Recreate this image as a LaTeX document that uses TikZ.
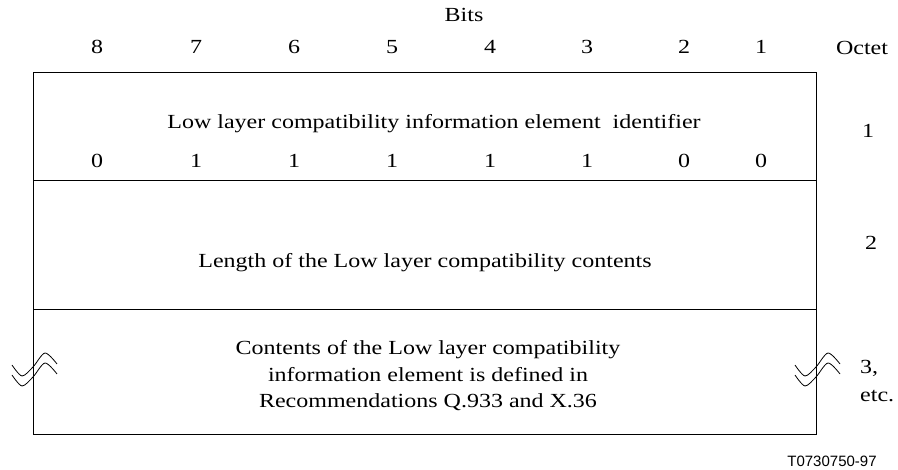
\documentclass[tikz,border=0pt]{standalone}
\usepackage{fontspec}
\setmainfont{Liberation Serif}[FakeStretch=1.2]
\setsansfont{Liberation Sans}
\usetikzlibrary{positioning}

\tikzset{
  brkmark/.pic={
    \draw[line width=0.8pt] plot[smooth] coordinates {(-21,-3) (-11,8) (0,-1) (12,-15) (24,-4)};
    \draw[line width=0.8pt] plot[smooth] coordinates {(-21,7) (-11,18) (0,9) (12,-5) (24,6)};
  }
}

\begin{document}
\begin{tikzpicture}[
      x=1pt, y=-1pt,
      every node/.style={font=\fontsize{20}{24}\selectfont, inner sep=0pt},
      bitnum/.style={anchor=center},
      octet/.style={anchor=center},
      rowline/.style={line width=1pt},
    ]
    \useasboundingbox (0,0) rectangle (898,470);

    % header
    \node (bits) at (464,15) {Bits};
    \foreach \b/\x in {8/97, 7/196, 6/294, 5/392, 4/490, 3/587, 2/684, 1/761}
      \node[bitnum] (b\b) at (\x,47) {\b};
    \node[octet] (oct) at (862,48) {Octet};

    % the three rows
    \draw[rowline] (33,73) rectangle (816,435);
    \draw[rowline] (33,181) -- (816,181);
    \draw[rowline] (33,310) -- (816,310);

    % octet 1
    \node (ident) at (434,124) {Low layer compatibility information element\ \ identifier};
    \foreach \b/\x/\v in {8/97/0, 7/196/1, 6/294/1, 5/392/1, 4/490/1, 3/587/1, 2/684/0, 1/761/0}
      \node[bitnum] (v\b) at (\x,161) {\v};
    \node[octet] (o1) at (868,131) {1};

    % octet 2
    \node (len) at (425,263) {Length of the Low layer compatibility contents};
    \node[octet] (o2) at (871,243) {2};

    % octet 3 etc.
    \node[align=center, font=\fontsize{20}{26.5}\selectfont] (cont) at (428,376)
      {Contents of the Low layer compatibility\\
       information element is defined in\\
       Recommendations Q.933 and X.36};
    \node[align=left, anchor=west, font=\fontsize{20}{28}\selectfont] (o3) at (860,381) {3,\\etc.};
    \pic at (33,368) {brkmark};
    \pic at (816,368) {brkmark};

    \node[font=\sffamily\fontsize{15}{17}\selectfont] (ref) at (832,461) {T0730750-97};
  \end{tikzpicture}
\end{document}
